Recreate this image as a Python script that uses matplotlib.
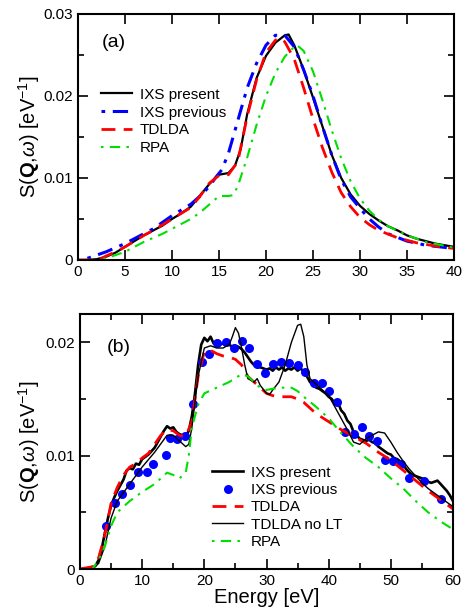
import matplotlib
matplotlib.use("Agg")
import matplotlib.pyplot as plt
from matplotlib.ticker import MultipleLocator, FuncFormatter

plt.rcParams['font.family'] = ['Liberation Sans', 'DejaVu Sans']
plt.rcParams['mathtext.fontset'] = 'custom'
plt.rcParams['mathtext.rm'] = 'Liberation Sans'
plt.rcParams['mathtext.bf'] = 'Liberation Sans:bold'
plt.rcParams['mathtext.it'] = 'Liberation Sans:italic'

# ---------------- Panel (a) data ----------------
a_ixs_x = [0, 1, 2, 3, 4, 5, 6, 7, 8, 9, 10, 11, 12, 13, 14, 15, 16, 16.7, 17.3, 18, 19, 20, 21, 22, 22.4,
           23, 24, 25, 26, 27, 28, 29, 30, 31, 32, 33, 34, 35, 36, 37, 38, 39, 40]
a_ixs_y = [0, 0, 0.0001, 0.0004, 0.0009, 0.0016, 0.0023, 0.0030, 0.0036, 0.0042, 0.0050, 0.0057, 0.0065,
           0.0079, 0.0093, 0.0104, 0.0106, 0.0115, 0.0135, 0.0178, 0.0222, 0.0249, 0.0265, 0.0274, 0.0275,
           0.0262, 0.0232, 0.0198, 0.0163, 0.0128, 0.0100, 0.0080, 0.0066, 0.0056, 0.0048, 0.0041, 0.0036,
           0.0030, 0.0026, 0.0023, 0.0020, 0.0018, 0.0016]

a_prev_x = [1, 2, 3, 4, 5, 6, 7, 8, 9, 10, 11, 12, 13, 14, 14.6, 15.3, 16, 17, 18, 19, 20, 21, 22,
            23, 24, 25, 26, 27, 28, 29, 30, 31, 32, 33, 35, 37, 40]
a_prev_y = [0.0002, 0.0006, 0.0010, 0.0015, 0.0020, 0.0026, 0.0032, 0.0038, 0.0046, 0.0054, 0.0061, 0.0068,
            0.0078, 0.0090, 0.0100, 0.0110, 0.0130, 0.0170, 0.0210, 0.0240, 0.0262, 0.0274, 0.0274,
            0.0260, 0.0232, 0.0200, 0.0163, 0.0128, 0.0098, 0.0077, 0.0063, 0.0050, 0.0040, 0.0032,
            0.0023, 0.0018, 0.0014]

a_td_x = [0, 2, 2.5, 3, 4, 5, 6, 7, 8, 9, 10, 11, 12, 13, 14, 15, 16, 17, 18, 19, 20, 21, 21.5, 22,
          23, 24, 25, 26, 27, 28, 29, 30, 31, 32, 34, 36, 38, 40]
a_td_y = [0, 0, 0.0002, 0.0005, 0.0010, 0.0016, 0.0023, 0.0030, 0.0036, 0.0043, 0.0050, 0.0057, 0.0064,
          0.0078, 0.0094, 0.0103, 0.0104, 0.0120, 0.0175, 0.0220, 0.0253, 0.0268, 0.0271, 0.0266,
          0.0245, 0.0210, 0.0172, 0.0137, 0.0107, 0.0082, 0.0065, 0.0052, 0.0043, 0.0036, 0.0027,
          0.0021, 0.0017, 0.0014]

a_rpa_x = [0, 2, 3, 4, 5, 6, 7, 8, 9, 10, 11, 12, 13, 14, 15, 16, 16.5, 17, 18, 19, 20, 21, 22, 23,
           23.3, 24, 25, 26, 27, 28, 29, 30, 31, 32, 33, 35, 37, 40]
a_rpa_y = [0, 0, 0.0002, 0.0006, 0.0010, 0.0016, 0.0022, 0.0027, 0.0032, 0.0038, 0.0044, 0.0050, 0.0058,
           0.0068, 0.0078, 0.0078, 0.0079, 0.0090, 0.0125, 0.0165, 0.0200, 0.0228, 0.0248, 0.0260,
           0.0262, 0.0255, 0.0230, 0.0195, 0.0158, 0.0124, 0.0096, 0.0075, 0.0060, 0.0049, 0.0041,
           0.0030, 0.0022, 0.0015]

# ---------------- Panel (b) data ----------------
b_ixs_x = [0, 1, 2, 2.5, 3, 3.5, 4, 4.5, 5, 5.5, 6, 6.5, 7, 7.5, 8, 8.5, 9, 9.5, 10, 10.5, 11, 11.5, 12,
           12.5, 13, 13.5, 14, 14.5, 15, 15.5, 16, 16.5, 17, 17.5, 18, 18.5, 19, 19.5, 20, 20.5, 21,
           21.5, 22, 22.5, 23, 23.5, 24, 24.5, 25, 25.5, 26, 26.5, 27, 27.5, 28, 28.5, 29, 29.5, 30,
           30.5, 31, 31.5, 32, 32.5, 33, 33.5, 34, 34.5, 35, 35.5, 36, 36.5, 37, 37.5, 38, 38.5, 39,
           39.5, 40, 40.5, 41, 41.5, 42, 42.5, 43, 43.5, 44, 44.5, 45, 45.5, 46, 46.5, 47, 47.5, 48,
           48.5, 49, 49.5, 50, 50.5, 51, 51.5, 52, 52.5, 53, 53.5, 54, 54.5, 55, 55.5, 56, 56.5, 57,
           57.5, 58, 58.5, 59, 59.5, 60]
b_ixs_y = [0, 0, 0.0001, 0.0003, 0.0008, 0.0018, 0.0032, 0.0045, 0.0056, 0.0063, 0.0069, 0.0074, 0.0079,
           0.0087, 0.0089, 0.0088, 0.0093, 0.0092, 0.0097, 0.0099, 0.0101, 0.0104, 0.0107, 0.0112,
           0.0117, 0.0122, 0.0126, 0.0124, 0.0125, 0.0121, 0.0119, 0.0118, 0.0117, 0.0122, 0.0135,
           0.0155, 0.0180, 0.0198, 0.0204, 0.0201, 0.0205, 0.0199, 0.0201, 0.0198, 0.0199, 0.0197,
           0.0198, 0.0196, 0.0197, 0.0196, 0.0194, 0.0191, 0.0187, 0.0183, 0.0180, 0.0178, 0.0178,
           0.0177, 0.0176, 0.0177, 0.0175, 0.0178, 0.0176, 0.0178, 0.0175, 0.0177, 0.0176, 0.0178,
           0.0175, 0.0177, 0.0174, 0.0170, 0.0165, 0.0162, 0.0160, 0.0159, 0.0157, 0.0155, 0.0152,
           0.0150, 0.0146, 0.0147, 0.0140, 0.0137, 0.0131, 0.0128, 0.0121, 0.0118, 0.0115, 0.0114,
           0.0113, 0.0114, 0.0112, 0.0111, 0.0108, 0.0106, 0.0104, 0.0102, 0.0101, 0.0098, 0.0097,
           0.0095, 0.0092, 0.0088, 0.0085, 0.0083, 0.0082, 0.0081, 0.0080, 0.0078, 0.0077, 0.0076,
           0.0077, 0.0078, 0.0075, 0.0072, 0.0069, 0.0065, 0.0060]

b_prev_x = [4.2, 5.6, 6.8, 8.1, 9.3, 10.7, 11.8, 13.8, 14.4, 15.6, 16.9, 18.1, 19.6, 20.7, 22.1, 23.5,
            24.8, 26.0, 27.2, 28.5, 29.8, 31.0, 32.3, 33.6, 35.0, 36.2, 37.7, 38.9, 40.1, 41.3, 42.7,
            44.0, 45.3, 46.5, 47.7, 49.0, 50.3, 51.6, 52.9, 55.4, 58.0]
b_prev_y = [0.0038, 0.0058, 0.0066, 0.0074, 0.0086, 0.0086, 0.0093, 0.0101, 0.0116, 0.0115, 0.0117,
            0.0146, 0.0183, 0.0190, 0.0199, 0.0200, 0.0195, 0.0201, 0.0195, 0.0181, 0.0173, 0.0181,
            0.0183, 0.0182, 0.0180, 0.0174, 0.0164, 0.0164, 0.0157, 0.0147, 0.0121, 0.0119, 0.0125,
            0.0117, 0.0113, 0.0096, 0.0095, 0.0093, 0.0080, 0.0078, 0.0062]

b_td_x = [0, 2, 3, 4, 5, 6, 7, 8, 9, 10, 11, 12, 13, 14, 15, 16, 17, 18, 19, 20, 21, 22, 23, 24, 25,
          26, 27, 28, 29, 30, 31, 32, 33, 34, 35, 36, 37, 38, 40, 42, 44, 46, 48, 50, 52, 54, 56, 58, 60]
b_td_y = [0, 0.0002, 0.0010, 0.0030, 0.0058, 0.0072, 0.0083, 0.0090, 0.0093, 0.0098, 0.0102, 0.0110,
          0.0118, 0.0123, 0.0122, 0.0118, 0.0117, 0.0130, 0.0170, 0.0192, 0.0193, 0.0190, 0.0188,
          0.0187, 0.0185, 0.0180, 0.0170, 0.0165, 0.0160, 0.0155, 0.0153, 0.0152, 0.0152, 0.0152,
          0.0150, 0.0147, 0.0142, 0.0137, 0.0130, 0.0123, 0.0117, 0.0111, 0.0103, 0.0096, 0.0087,
          0.0078, 0.0069, 0.0061, 0.0053]

b_nolt_x = [0, 2, 3, 4, 5, 6, 8, 10, 12, 14, 15, 16, 17, 17.5, 18, 19, 20, 21, 22, 23, 24, 24.5, 25,
            25.5, 26, 26.5, 27, 28, 28.5, 29, 30, 30.5, 31, 32, 33, 34, 35, 35.5, 36, 36.5, 37, 38, 39,
            40, 41, 42, 43, 44, 45, 46, 47, 48, 49, 50, 51, 52, 53, 54, 55, 56, 57, 58, 59, 60]
b_nolt_y = [0, 0, 0.0005, 0.0020, 0.0045, 0.0060, 0.0075, 0.0090, 0.0103, 0.0118, 0.0118, 0.0113,
            0.0108, 0.0110, 0.0125, 0.0170, 0.0195, 0.0197, 0.0195, 0.0195, 0.0198, 0.0205, 0.0213,
            0.0208, 0.0195, 0.0180, 0.0168, 0.0165, 0.0168, 0.0162, 0.0155, 0.0154, 0.0158, 0.0165,
            0.0180, 0.0200, 0.0215, 0.0216, 0.0205, 0.0180, 0.0168, 0.0163, 0.0158, 0.0153, 0.0143,
            0.0133, 0.0123, 0.0112, 0.0110, 0.0115, 0.0118, 0.0121, 0.0120, 0.0112, 0.0103, 0.0095,
            0.0088, 0.0082, 0.0076, 0.0071, 0.0067, 0.0063, 0.0059, 0.0055]

b_rpa_x = [0, 2, 3, 4, 5, 6, 8, 10, 12, 13, 14, 15, 16, 17, 17.5, 18, 19, 20, 22, 24, 26, 27, 28, 29,
           30, 31, 32, 34, 35, 36, 38, 40, 42, 44, 46, 48, 50, 52, 54, 56, 58, 60]
b_rpa_y = [0, 0, 0.0008, 0.0020, 0.0038, 0.0050, 0.0060, 0.0068, 0.0075, 0.0080, 0.0085, 0.0083,
           0.0080, 0.0085, 0.0100, 0.0125, 0.0145, 0.0155, 0.0160, 0.0165, 0.0172, 0.0170, 0.0165,
           0.0160, 0.0158, 0.0159, 0.0160, 0.0160, 0.0157, 0.0152, 0.0143, 0.0133, 0.0120, 0.0108,
           0.0098, 0.0090, 0.0080, 0.0071, 0.0060, 0.0050, 0.0042, 0.0035]

ylabel = r'S($\mathbf{Q}$,$\omega$) [eV$^{-1}$]'

fig = plt.figure(figsize=(4.66, 6.10), dpi=100)
ax1 = fig.add_axes([0.1674, 0.5738, 0.8069, 0.4033])
ax2 = fig.add_axes([0.1717, 0.0672, 0.8004, 0.4180])

def yfmt(v, pos):
    return '0' if abs(v) < 1e-9 else f'{v:.2f}'

for ax in (ax1, ax2):
    ax.tick_params(which='both', direction='in', top=True, right=True, labelsize=11, width=1.2)
    ax.tick_params(which='major', length=7)
    ax.tick_params(which='minor', length=4)
    for s in ax.spines.values():
        s.set_linewidth(1.5)
    ax.yaxis.set_major_locator(MultipleLocator(0.01))
    ax.yaxis.set_minor_locator(MultipleLocator(0.005))
    ax.yaxis.set_major_formatter(FuncFormatter(yfmt))
    ax.set_ylabel(ylabel, fontsize=14.5)

ax1.yaxis.set_label_coords(-0.096, 0.5)
ax2.yaxis.set_label_coords(-0.102, 0.5)

# Panel (a)
ax1.plot(a_ixs_x, a_ixs_y, color='black', lw=1.6, label='IXS present')
ax1.plot(a_prev_x, a_prev_y, color='#0000ff', lw=2.2, dashes=(1.2, 2.5, 5, 2.5), label='IXS previous')
ax1.plot(a_td_x, a_td_y, color='#ff0000', lw=2.0, dashes=(5, 3), label='TDLDA')
ax1.plot(a_rpa_x, a_rpa_y, color='#00e000', lw=1.5, dashes=(1.2, 3, 5, 3), label='RPA')
ax1.set_xlim(0, 40)
ax1.set_ylim(0, 0.03)
ax1.xaxis.set_major_locator(MultipleLocator(5))
ax1.text(0.064, 0.882, '(a)', transform=ax1.transAxes, fontsize=14, va='center', ha='left')
ax1.legend(loc='upper left', bbox_to_anchor=(0.062, 0.70), frameon=False, fontsize=11,
           handlelength=2.0, handletextpad=0.5, labelspacing=0.25, borderpad=0, borderaxespad=0)

# Panel (b)
ax2.plot(b_ixs_x, b_ixs_y, color='black', lw=1.9, label='IXS present')
ax2.plot(b_prev_x, b_prev_y, 'o', color='#0000ff', ms=6.5, mec='none', label='IXS previous')
ax2.plot(b_td_x, b_td_y, color='#ff0000', lw=2.0, dashes=(5, 3), label='TDLDA')
ax2.plot(b_nolt_x, b_nolt_y, color='black', lw=1.0, label='TDLDA no LT')
ax2.plot(b_rpa_x, b_rpa_y, color='#00e000', lw=1.5, dashes=(1.2, 3, 5, 3), label='RPA')
ax2.set_xlim(0, 60)
ax2.set_ylim(0, 0.0225)
ax2.xaxis.set_major_locator(MultipleLocator(10))
ax2.xaxis.set_minor_locator(MultipleLocator(5))
ax2.set_xlabel('Energy [eV]', fontsize=14.5, labelpad=0)
ax2.text(0.072, 0.867, '(b)', transform=ax2.transAxes, fontsize=14, va='center', ha='left')
ax2.legend(loc='upper left', bbox_to_anchor=(0.355, 0.405), frameon=False, fontsize=11,
           handlelength=2.0, handletextpad=0.5, labelspacing=0.22, borderpad=0, borderaxespad=0)

fig.savefig('out.png', dpi=100)
